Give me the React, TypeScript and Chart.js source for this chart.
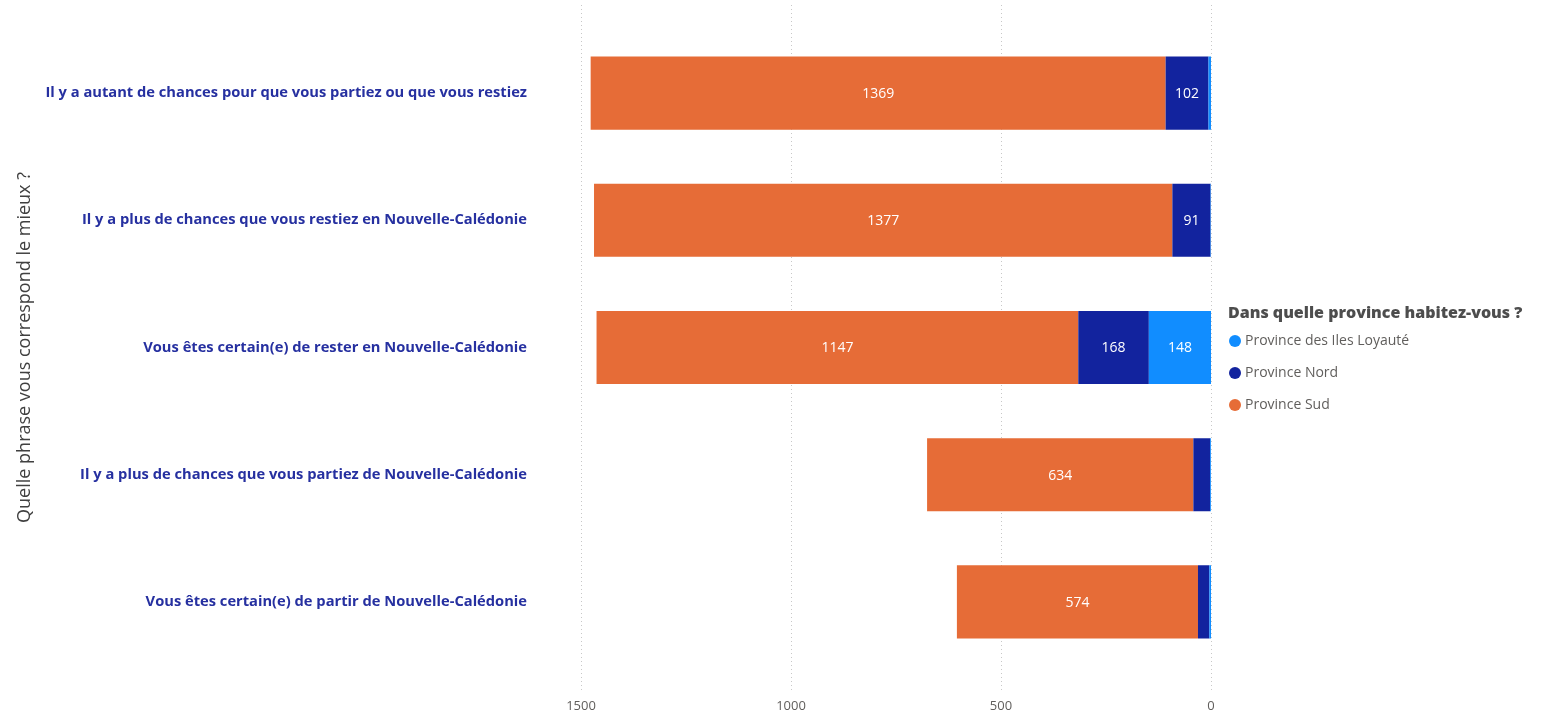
import React, { useEffect, useRef } from "react";
import { Chart, registerables } from "chart.js";

Chart.register(...registerables);

const categories = [
  "Il y a autant de chances pour que vous partiez ou que vous restiez",
  "Il y a plus de chances que vous restiez en Nouvelle-Calédonie",
  "Vous êtes certain(e) de rester en Nouvelle-Calédonie",
  "Il y a plus de chances que vous partiez de Nouvelle-Calédonie",
  "Vous êtes certain(e) de partir de Nouvelle-Calédonie",
];
const seriesNames = ["Province des Iles Loyauté", "Province Nord", "Province Sud"];
const loyaute = [6, 1, 148, 2, 4];
const nord = [102, 91, 168, 40, 27];
const sud = [1369, 1377, 1147, 634, 574];
const xTicks = [0, 500, 1000, 1500];
const colors = ["#118DFF", "#12239E", "#E66C37"];

const FONT = "'Open Sans', 'Noto Sans', sans-serif";

const gridPlugin = {
  id: "dotgrid",
  beforeDatasetsDraw(chart: any) {
    const ctx = chart.ctx;
    const xs = chart.scales.x;
    ctx.save();
    ctx.strokeStyle = "#c8c8c8";
    ctx.lineWidth = 1;
    ctx.setLineDash([1, 3]);
    xTicks.forEach((v) => {
      const x = Math.round(xs.getPixelForValue(v)) + 0.5;
      ctx.beginPath();
      ctx.moveTo(x, 5);
      ctx.lineTo(x, 690);
      ctx.stroke();
    });
    ctx.restore();
  },
};

const labelPlugin = {
  id: "barlabels",
  afterDatasetsDraw(chart: any) {
    const ctx = chart.ctx;
    ctx.save();
    ctx.fillStyle = "#ffffff";
    ctx.font = `14px ${FONT}`;
    ctx.textAlign = "center";
    ctx.textBaseline = "middle";
    chart.data.datasets.forEach((ds: any, i: number) => {
      const meta = chart.getDatasetMeta(i);
      meta.data.forEach((el: any, j: number) => {
        const w = Math.abs(el.x - el.base);
        if (w > 30) {
          ctx.fillText(String(ds.data[j]), (el.x + el.base) / 2, el.y + 1);
        }
      });
    });
    ctx.restore();
  },
};

const legendPlugin = {
  id: "customLegend",
  afterDraw(chart: any) {
    const ctx = chart.ctx;
    const x0 = chart.chartArea.right + 17;
    ctx.save();
    ctx.textBaseline = "middle";
    ctx.textAlign = "left";
    ctx.fillStyle = "#4d4d4d";
    ctx.font = `800 16px ${FONT}`;
    ctx.fillText("Dans quelle province habitez-vous ?", x0, 313);
    chart.data.datasets.forEach((ds: any, i: number) => {
      const y = 341 + i * 32;
      ctx.beginPath();
      ctx.fillStyle = ds.backgroundColor;
      ctx.arc(x0 + 7, y, 6, 0, Math.PI * 2);
      ctx.fill();
      ctx.fillStyle = "#605E5C";
      ctx.font = `14px ${FONT}`;
      ctx.fillText(ds.label, x0 + 17, y);
    });
    ctx.restore();
  },
};

export default function App() {
  const ref = useRef<HTMLCanvasElement>(null);
  useEffect(() => {
    document.body.style.margin = "0";
    const chart = new Chart(ref.current!, {
      type: "bar",
      data: {
        labels: categories,
        datasets: [
          { label: seriesNames[0], data: loyaute, backgroundColor: colors[0] },
          { label: seriesNames[1], data: nord, backgroundColor: colors[1] },
          { label: seriesNames[2], data: sud, backgroundColor: colors[2] },
        ],
      },
      options: {
        indexAxis: "y",
        animation: false,
        responsive: false,
        layout: { padding: { top: 29.5, right: 336, left: 0, bottom: 0 } },
        datasets: { bar: { categoryPercentage: 1, barPercentage: 0.575 } },
        plugins: { legend: { display: false }, tooltip: { enabled: false } },
        scales: {
          x: {
            stacked: true,
            reverse: true,
            min: 0,
            max: 1500,
            afterBuildTicks: (s: any) => {
              s.ticks = xTicks.map((v) => ({ value: v }));
            },
            afterFit: (s: any) => {
              s.height = 52.5;
            },
            grid: { display: false },
            border: { display: false },
            ticks: {
              color: "#605E5C",
              font: { family: FONT, size: 13 },
              padding: 25,
              maxRotation: 0,
              callback: (v: any) => String(v),
            },
          },
          y: {
            stacked: true,
            afterFit: (s: any) => {
              s.width = 581;
              s.paddingTop = 0;
              s.paddingBottom = 0;
            },
            grid: { display: false },
            border: { display: false },
            ticks: {
              color: "#2630A0",
              font: { family: FONT, size: 14.7, weight: "bold" },
              padding: 46,
            },
            title: {
              display: true,
              text: "Quelle phrase vous correspond le mieux ?",
              color: "#404040",
              font: { family: FONT, size: 18 },
              padding: { top: 14, bottom: 0 },
            },
          },
        },
      },
      plugins: [gridPlugin, labelPlugin, legendPlugin],
    } as any);
    return () => chart.destroy();
  }, []);
  return (
    <div style={{ width: 1547, height: 718 }}>
      <canvas ref={ref} width={1547} height={718} style={{ display: "block" }} />
    </div>
  );
}
